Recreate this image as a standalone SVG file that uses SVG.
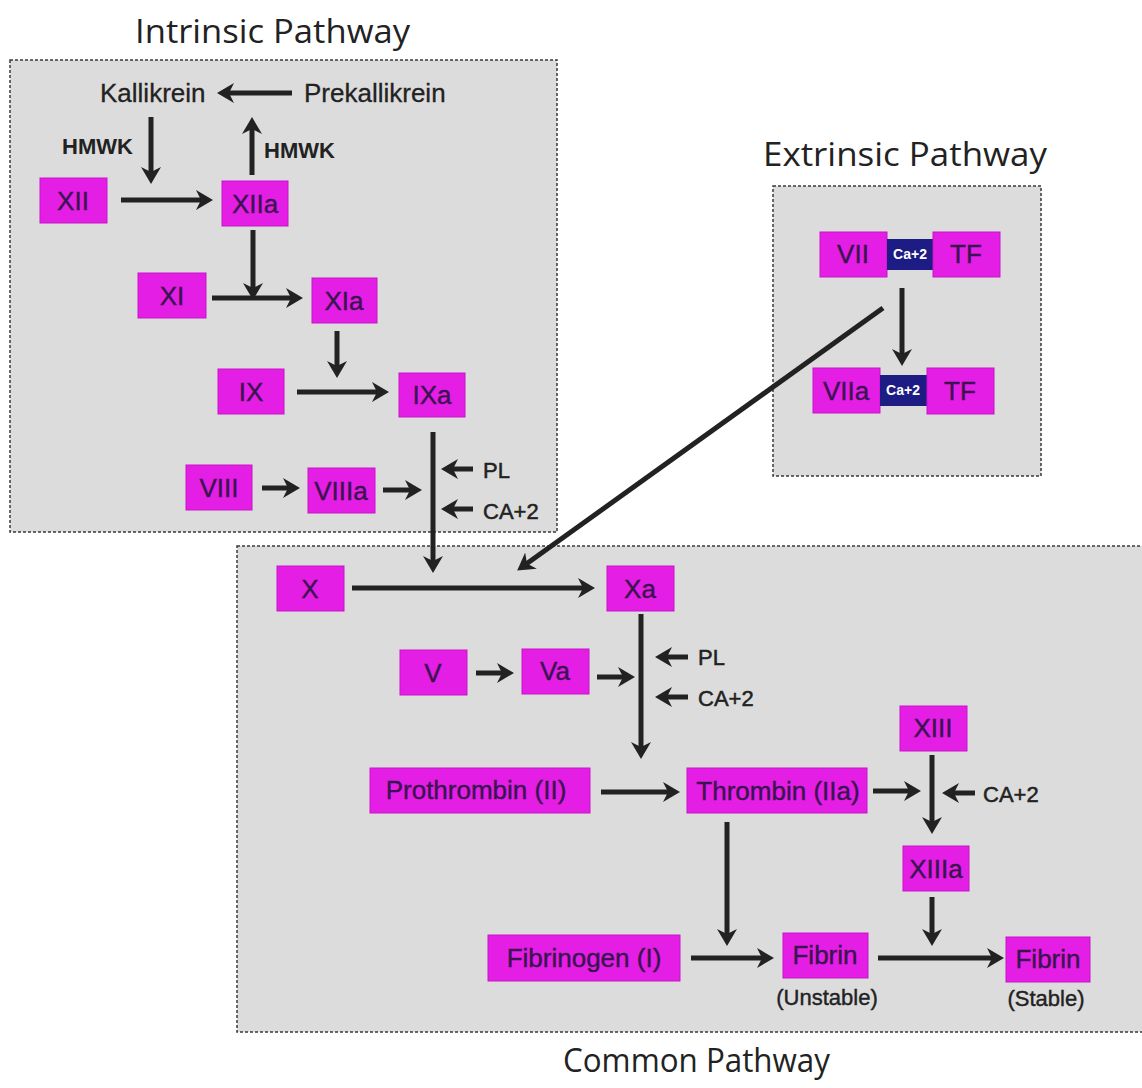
<svg xmlns="http://www.w3.org/2000/svg" width="1142" height="1088" viewBox="0 0 1142 1088">
  <defs>
    <marker id="head" markerUnits="userSpaceOnUse" markerWidth="20" markerHeight="22" viewBox="0 0 20 22" refX="8" refY="11" orient="auto">
      <path d="M0,1 L17,11 L0,21 L5,11 z" fill="#222"/>
    </marker>
    <style>
      .panel { fill: #dcdcdc; stroke: #3a3a3a; stroke-width: 1.5; stroke-dasharray: 3 2; }
      .title { font-family: "Open Sans", "Noto Sans", sans-serif; font-size: 33px; fill: #222; }
      .node rect.f { fill: #e41ee4; stroke: #c815c8; stroke-width: 1; }
      .node rect.ca { fill: #1c1c84; }
      .lbl { font-family: "Liberation Sans", Arial, sans-serif; font-size: 26px; fill: #3a1450; stroke: #3a1450; stroke-width: 0.4; text-anchor: middle; dominant-baseline: central; }
      .calbl { font-family: "Liberation Sans", Arial, sans-serif; font-size: 14px; font-weight: bold; fill: #ffffff; text-anchor: middle; dominant-baseline: central; }
      .txt { font-family: "Liberation Sans", Arial, sans-serif; font-size: 26px; fill: #222; stroke: #222; stroke-width: 0.3; dominant-baseline: central; }
      .sm { font-family: "Liberation Sans", Arial, sans-serif; font-size: 22px; fill: #222; stroke: #222; stroke-width: 0.5; dominant-baseline: central; }
      .hm { font-family: "Liberation Sans", Arial, sans-serif; font-size: 22px; font-weight: bold; fill: #222; dominant-baseline: central; }
      .sub { font-family: "Liberation Sans", Arial, sans-serif; font-size: 22px; fill: #222; stroke: #222; stroke-width: 0.4; text-anchor: middle; dominant-baseline: central; }
      .conn line { stroke: #222; stroke-width: 5; fill: none; }
      .conn line.a { marker-end: url(#head); }
    </style>
  </defs>

  <rect width="1142" height="1088" fill="#ffffff"/>

  <!-- pathway panels -->
  <rect class="panel" x="10" y="60" width="547" height="472"/>
  <rect class="panel" x="773" y="186" width="268" height="290"/>
  <rect class="panel" x="237" y="546" width="910" height="486"/>

  <text class="title" x="135" y="43" textLength="275" lengthAdjust="spacingAndGlyphs">Intrinsic Pathway</text>
  <text class="title" x="763" y="166" textLength="284" lengthAdjust="spacingAndGlyphs">Extrinsic Pathway</text>
  <text class="title" x="563" y="1072" textLength="267" lengthAdjust="spacingAndGlyphs">Common Pathway</text>

  <!-- intrinsic pathway -->
  <g id="kallikrein"><text class="txt" x="100" y="93">Kallikrein</text></g>
  <g id="prekallikrein"><text class="txt" x="304" y="93">Prekallikrein</text></g>
  <g id="hmwk-left"><text class="hm" x="62" y="146">HMWK</text></g>
  <g id="hmwk-right"><text class="hm" x="264" y="150">HMWK</text></g>
  <g id="xii" class="node"><rect class="f" x="40" y="178" width="67" height="45"/><text class="lbl" x="73" y="201">XII</text></g>
  <g id="xiia" class="node"><rect class="f" x="222" y="181" width="66" height="45"/><text class="lbl" x="255" y="204">XIIa</text></g>
  <g id="xi" class="node"><rect class="f" x="138" y="273" width="68" height="45"/><text class="lbl" x="172" y="296">XI</text></g>
  <g id="xia" class="node"><rect class="f" x="312" y="278" width="65" height="45"/><text class="lbl" x="344" y="301">XIa</text></g>
  <g id="ix" class="node"><rect class="f" x="218" y="369" width="66" height="45"/><text class="lbl" x="251" y="392">IX</text></g>
  <g id="ixa" class="node"><rect class="f" x="399" y="373" width="66" height="44"/><text class="lbl" x="432" y="395">IXa</text></g>
  <g id="viii" class="node"><rect class="f" x="186" y="465" width="66" height="45"/><text class="lbl" x="219" y="488">VIII</text></g>
  <g id="viiia" class="node"><rect class="f" x="308" y="468" width="67" height="45"/><text class="lbl" x="341" y="491">VIIIa</text></g>
  <g id="pl-intrinsic"><text class="sm" x="483" y="470">PL</text></g>
  <g id="ca-intrinsic"><text class="sm" x="483" y="511">CA+2</text></g>

  <!-- extrinsic pathway -->
  <g id="vii-complex" class="node">
    <rect class="f" x="820" y="232" width="67" height="45"/><text class="lbl" x="853" y="254">VII</text>
    <rect class="ca" x="887" y="239" width="46" height="31"/><text class="calbl" x="910" y="254">Ca+2</text>
    <rect class="f" x="933" y="232" width="67" height="45"/><text class="lbl" x="966" y="254">TF</text>
  </g>
  <g id="viia-complex" class="node">
    <rect class="f" x="813" y="368" width="67" height="45"/><text class="lbl" x="846" y="391">VIIa</text>
    <rect class="ca" x="880" y="375" width="47" height="31"/><text class="calbl" x="903" y="390">Ca+2</text>
    <rect class="f" x="927" y="368" width="67" height="46"/><text class="lbl" x="960" y="391">TF</text>
  </g>

  <!-- common pathway -->
  <g id="x" class="node"><rect class="f" x="277" y="566" width="67" height="45"/><text class="lbl" x="310" y="589">X</text></g>
  <g id="xa" class="node"><rect class="f" x="607" y="566" width="67" height="45"/><text class="lbl" x="640" y="589">Xa</text></g>
  <g id="v" class="node"><rect class="f" x="400" y="650" width="67" height="45"/><text class="lbl" x="433" y="673">V</text></g>
  <g id="va" class="node"><rect class="f" x="522" y="649" width="67" height="45"/><text class="lbl" x="555" y="671">Va</text></g>
  <g id="pl-common"><text class="sm" x="698" y="657">PL</text></g>
  <g id="ca-common"><text class="sm" x="698" y="698">CA+2</text></g>
  <g id="prothrombin" class="node"><rect class="f" x="370" y="768" width="220" height="45"/><text class="lbl" x="476" y="790">Prothrombin (II)</text></g>
  <g id="thrombin" class="node"><rect class="f" x="687" y="768" width="180" height="45"/><text class="lbl" x="778" y="791">Thrombin (IIa)</text></g>
  <g id="xiii" class="node"><rect class="f" x="900" y="706" width="67" height="45"/><text class="lbl" x="933" y="728">XIII</text></g>
  <g id="ca-xiii"><text class="sm" x="983" y="794">CA+2</text></g>
  <g id="xiiia" class="node"><rect class="f" x="903" y="846" width="66" height="45"/><text class="lbl" x="936" y="869">XIIIa</text></g>
  <g id="fibrinogen" class="node"><rect class="f" x="488" y="935" width="192" height="46"/><text class="lbl" x="584" y="958">Fibrinogen (I)</text></g>
  <g id="fibrin-unstable" class="node"><rect class="f" x="783" y="933" width="85" height="45"/><text class="lbl" x="825" y="955">Fibrin</text><text class="sub" x="827" y="997">(Unstable)</text></g>
  <g id="fibrin-stable" class="node"><rect class="f" x="1006" y="937" width="84" height="45"/><text class="lbl" x="1048" y="959">Fibrin</text><text class="sub" x="1046" y="998">(Stable)</text></g>

  <!-- connectors -->
  <g id="connectors" class="conn">
    <line class="a" x1="292" y1="93" x2="226" y2="93"/>
    <line class="a" x1="151" y1="117" x2="151" y2="175"/>
    <line class="a" x1="252" y1="175" x2="252" y2="126"/>
    <line class="a" x1="121" y1="200" x2="204" y2="200"/>
    <line class="a" x1="253" y1="230" x2="253" y2="291"/>
    <line class="a" x1="212" y1="298" x2="294" y2="298"/>
    <line class="a" x1="337" y1="331" x2="337" y2="369"/>
    <line class="a" x1="297" y1="392" x2="380" y2="392"/>
    <line class="a" x1="433" y1="432" x2="433" y2="564"/>
    <line class="a" x1="262" y1="488" x2="291" y2="488"/>
    <line class="a" x1="383" y1="490" x2="413" y2="490"/>
    <line class="a" x1="473" y1="469" x2="450" y2="469"/>
    <line class="a" x1="473" y1="509" x2="450" y2="509"/>
    <line class="a" x1="902" y1="288" x2="902" y2="357"/>
    <line class="a" x1="883" y1="308" x2="524.5" y2="565.3"/>
    <line class="a" x1="352" y1="588" x2="586" y2="588"/>
    <line class="a" x1="641" y1="614" x2="641" y2="750"/>
    <line class="a" x1="688" y1="657" x2="664" y2="657"/>
    <line class="a" x1="688" y1="697" x2="664" y2="697"/>
    <line class="a" x1="476" y1="673" x2="505" y2="673"/>
    <line class="a" x1="597" y1="677" x2="626" y2="677"/>
    <line class="a" x1="601" y1="792" x2="671" y2="792"/>
    <line class="a" x1="873" y1="791" x2="912" y2="791"/>
    <line class="a" x1="932" y1="755" x2="932" y2="825"/>
    <line class="a" x1="975" y1="793" x2="951" y2="793"/>
    <line class="a" x1="932" y1="897" x2="932" y2="937"/>
    <line class="a" x1="727" y1="822" x2="727" y2="937"/>
    <line class="a" x1="691" y1="958" x2="765" y2="958"/>
    <line class="a" x1="878" y1="958" x2="995" y2="958"/>
  </g>
</svg>
